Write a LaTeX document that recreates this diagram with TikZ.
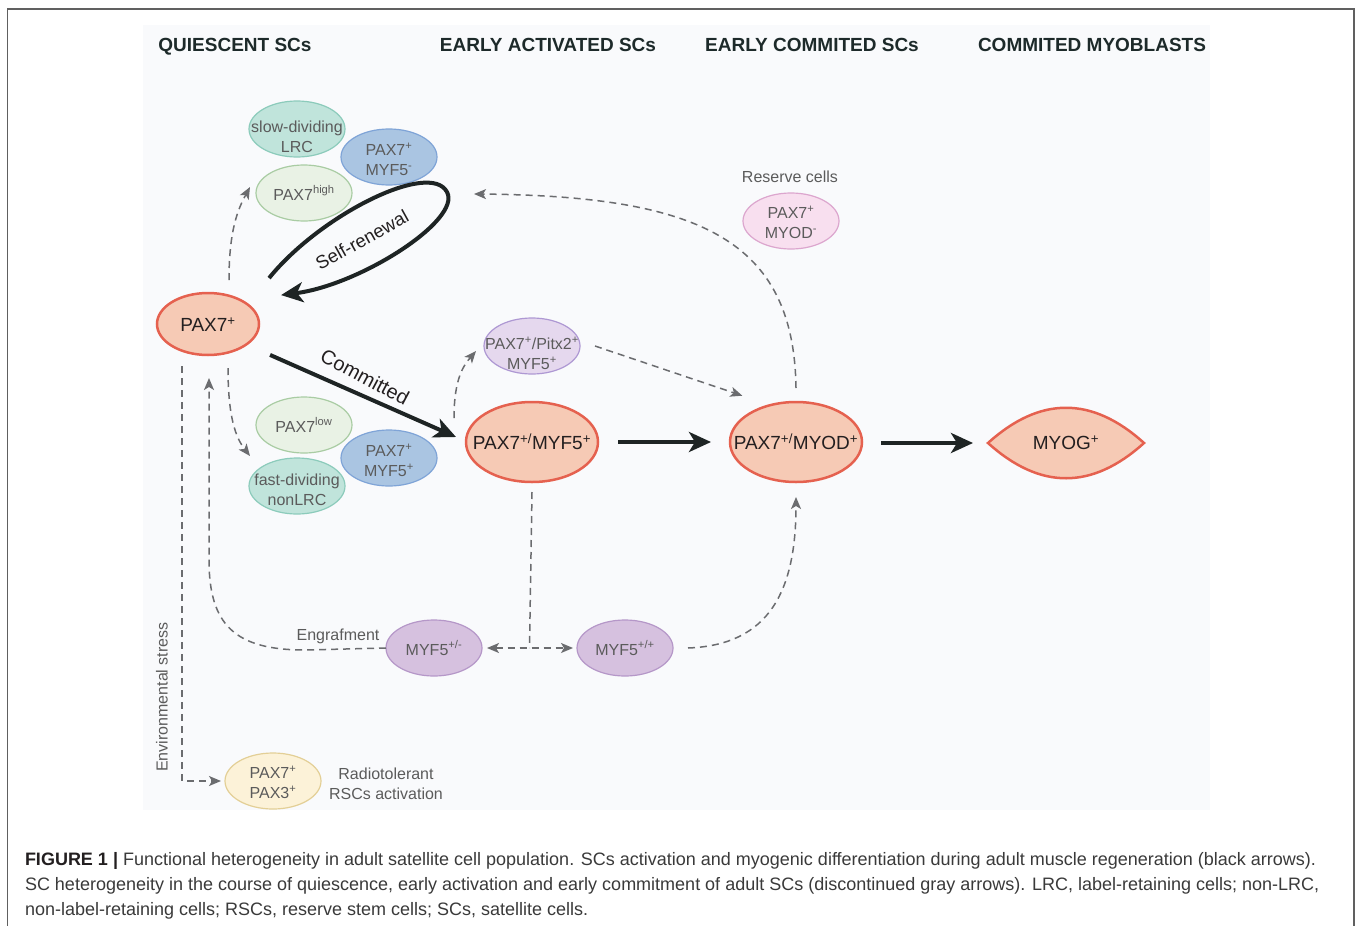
\documentclass[tikz,border=0pt]{standalone}
\usepackage{fontspec}
\setmainfont{Liberation Sans}
\usetikzlibrary{arrows.meta,calc,shapes.geometric}
\definecolor{bgc}{HTML}{F9FAFC}
\definecolor{framec}{HTML}{606060}
\definecolor{salf}{HTML}{F6CAB5}
\definecolor{sald}{HTML}{E5614F}
\definecolor{tealf}{HTML}{C0E4DB}
\definecolor{teald}{HTML}{8CCBBB}
\definecolor{bluef}{HTML}{AAC5E2}
\definecolor{blued}{HTML}{7FA4D7}
\definecolor{greenf}{HTML}{E9F2E5}
\definecolor{greend}{HTML}{A9CCA3}
\definecolor{lavf}{HTML}{E5D8EE}
\definecolor{lavd}{HTML}{AE98D3}
\definecolor{pinkf}{HTML}{F8DFEF}
\definecolor{pinkd}{HTML}{DCA6CE}
\definecolor{purf}{HTML}{D6C1DF}
\definecolor{purd}{HTML}{B597C8}
\definecolor{yelf}{HTML}{FCF2D8}
\definecolor{yeld}{HTML}{E3CF96}
\definecolor{txtgray}{HTML}{5B5B5B}
\definecolor{txtdark}{HTML}{231F20}
\definecolor{arrgray}{HTML}{6B6C6F}
\definecolor{arrblack}{HTML}{1E2424}
\definecolor{hdrc}{HTML}{1D2A2A}
\definecolor{capc}{HTML}{3A3A3A}
\begin{document}
\begin{tikzpicture}[x=1pt,y=-1pt,
  every node/.style={inner sep=0pt, outer sep=0pt},
  cellbase/.style={ellipse, minimum width=96pt, minimum height=56pt, line width=1.2pt},
  ctext/.style={text=txtgray, font=\fontsize{16}{20}\selectfont, align=center},
  btext/.style={text=txtdark, font=\fontsize{19}{22}\selectfont, align=center},
  tealcell/.style={cellbase, fill=tealf, draw=teald},
  bluecell/.style={cellbase, fill=bluef, draw=blued},
  greencell/.style={cellbase, fill=greenf, draw=greend},
  lavcell/.style={cellbase, fill=lavf, draw=lavd},
  pinkcell/.style={cellbase, fill=pinkf, draw=pinkd},
  purcell/.style={cellbase, fill=purf, draw=purd},
  yelcell/.style={cellbase, fill=yelf, draw=yeld},
  bigcell/.style={ellipse, minimum width=132pt, minimum height=80pt, fill=salf, draw=sald, line width=2.5pt},
  gdash/.style={draw=arrgray, line width=1.5pt, dash pattern=on 7pt off 5pt, -{Stealth[length=12pt,width=10pt,inset=3pt]}},
  gdashboth/.style={draw=arrgray, line width=1.5pt, dash pattern=on 7pt off 5pt, {Stealth[length=12pt,width=10pt,inset=3pt]}-{Stealth[length=12pt,width=10pt,inset=3pt]}},
  gdashplain/.style={draw=arrgray, line width=1.5pt, dash pattern=on 7pt off 5pt},
  blkarrow/.style={draw=arrblack, line width=4pt, -{Stealth[length=22pt,width=20pt,inset=6pt]}},
  lbl/.style={text=txtgray, font=\fontsize{16}{20}\selectfont, align=center},
  hdr/.style={text=hdrc, font=\fontsize{19}{22}\selectfont\bfseries, anchor=base},
  captext/.style={anchor=base west, text=capc, font=\fontsize{18}{22}\selectfont}
]
\useasboundingbox (0,0) rectangle (1357,926);
\fill[white] (0,0) rectangle (1357,926);
\fill[bgc] (143,25) rectangle (1210,810);
\draw[framec, line width=1.2pt] (7.5,926) -- (7.5,9) -- (1354,9) -- (1354,926);

% headers
\node[hdr] (h1) at (235,51) {QUIESCENT SCs};
\node[hdr] (h2) at (548,51) {EARLY ACTIVATED SCs};
\node[hdr] (h3) at (812,51) {EARLY COMMITED SCs};
\node[hdr] (h4) at (1092,51) {COMMITED MYOBLASTS};

% quiescent groups
\node[tealcell, label={[ctext, yshift=-8pt]center:{slow-dividing\\LRC}}] (slow) at (297,129) {};
\node[bluecell, label={[ctext, yshift=-2pt]center:{PAX7\textsuperscript{+}\\MYF5\textsuperscript{-}}}] (bm) at (389,157) {};
\node[greencell, label={[ctext]center:{PAX7\textsuperscript{high}}}] (high) at (304,193) {};

\node[greencell, label={[ctext]center:{PAX7\textsuperscript{low}}}] (low) at (304,425) {};
\node[tealcell, label={[ctext, yshift=-4pt]center:{fast-dividing\\nonLRC}}] (fast) at (297,486) {};
\node[bluecell, label={[ctext, yshift=-2pt]center:{PAX7\textsuperscript{+}\\MYF5\textsuperscript{+}}}] (bp) at (389,458) {};

\node[bigcell, minimum width=102pt, minimum height=62pt, label={[btext, yshift=-1pt]center:{PAX7\textsuperscript{+}}}] (pax7) at (208,324) {};

\node[lavcell, label={[ctext, yshift=-7pt]center:{PAX7\textsuperscript{+}/Pitx2\textsuperscript{+}\\MYF5\textsuperscript{+}}}] (pitx) at (532,346) {};
\node[bigcell, label={[btext]center:{PAX7\textsuperscript{+/}MYF5\textsuperscript{+}}}] (mf5) at (532,442) {};
\node[bigcell, label={[btext]center:{PAX7\textsuperscript{+/}MYOD\textsuperscript{+}}}] (myod) at (796,442) {};

\node[lbl] (rlab) at (790,177) {Reserve cells};
\node[pinkcell, label={[ctext, yshift=-1pt]center:{PAX7\textsuperscript{+}\\MYOD\textsuperscript{-}}}] (res) at (791,221) {};

\path[fill=salf, draw=sald, line width=2.5pt] (988,443) .. controls (1040,396) and (1092,396) .. (1144,443) .. controls (1092,490) and (1040,490) .. cycle;
\node[btext, minimum width=156pt, minimum height=70pt] (myog) at (1066,443) {MYOG\textsuperscript{+}};

\node[purcell, label={[ctext]center:{MYF5\textsuperscript{+/-}}}] (myf5m) at (434,648) {};
\node[purcell, label={[ctext]center:{MYF5\textsuperscript{+/+}}}] (myf5p) at (625,648) {};
\node[lbl] (eng) at (338,636) {Engrafment};

\node[yelcell, label={[ctext, yshift=-1pt]center:{PAX7\textsuperscript{+}\\PAX3\textsuperscript{+}}}] (pax3) at (273,781) {};
\node[lbl] (radio) at (386,784) {Radiotolerant\\RSCs activation};
\node[lbl, rotate=90] (env) at (162,697) {Environmental stress};

\coordinate (rtip) at (474,194);

% black arrows
\draw[blkarrow] ($(pax7.north east)+(25,-24)$) .. controls (320,215) and (430,160) .. (447,192)
   .. controls (462,220) and (360,285) .. ($(pax7.north east)+(37,-7)$);
\node[btext, font=\fontsize{18.5}{22}\selectfont, rotate=29] (selfr) at (362,240) {Self-renewal};
\draw[blkarrow] ($(pax7.south east)+(26,9)$) -- ($(mf5.west)+(-10,-5)$);
\node[btext, font=\fontsize{20}{22}\selectfont, rotate=-28] (comm) at (365,377) {Committed};
\draw[blkarrow] ($(mf5.east)+(20,0)$) -- ($(myod.west)+(-19,0)$);
\draw[blkarrow] ($(myod.east)+(19,1)$) -- ($(myog.west)+(-15,0)$);

% gray dashed arrows
\draw[gdash] ($(pax7.north)+(21,-13)$) .. controls +(0,-50) and +(-12,22) .. ($(high.west)+(-6,-6)$);
\draw[gdash] ($(pax7.south)+(20,13)$) .. controls +(0,50) and +(-14,-18) .. ($(fast.west)+(1,-30)$);
\draw[gdash] ($(mf5.west)+(-12,-24)$) .. controls +(0,-40) and +(-12,14) .. ($(pitx.west)+(-8,5)$);
\draw[gdash] ($(pitx.east)+(15,0)$) -- ($(myod.north west)+(-7,-18)$);
\draw[gdash] ($(myod.north)+(0,-14)$) .. controls (794,240) and (700,196) .. (rtip);
\draw[gdash] ($(pax7.south)+(-26,11)$) |- ($(pax3.west)+(-4,0)$);
\draw[gdash] (myf5m.west) -- (305,650) .. controls (235,650) and (209,625) .. (209,560) -- ($(pax7.south)+(1,23)$);
\draw[gdashplain] ($(mf5.south)+(0,10)$) -- ($(myf5m.east)!0.5!(myf5p.west)$);
\draw[gdashboth] ($(myf5m.east)+(5,0)$) -- ($(myf5p.west)+(-4,0)$);
\draw[gdash] ($(myf5p.east)+(15,0)$) .. controls (770,645) and (796,590) .. ($(myod.south)+(0,15)$);

% caption
\node[captext] (c1) at (25,865) {{\color{txtdark}\bfseries FIGURE 1 |} Functional heterogeneity in adult satellite cell population. SCs activation and myogenic differentiation during adult muscle regeneration (black arrows).};
\node[captext] (c2) at (25,890) {SC heterogeneity in the course of quiescence, early activation and early commitment of adult SCs (discontinued gray arrows). LRC, label-retaining cells; non-LRC,};
\node[captext] (c3) at (25,915) {non-label-retaining cells; RSCs, reserve stem cells; SCs, satellite cells.};
\end{tikzpicture}
\end{document}
